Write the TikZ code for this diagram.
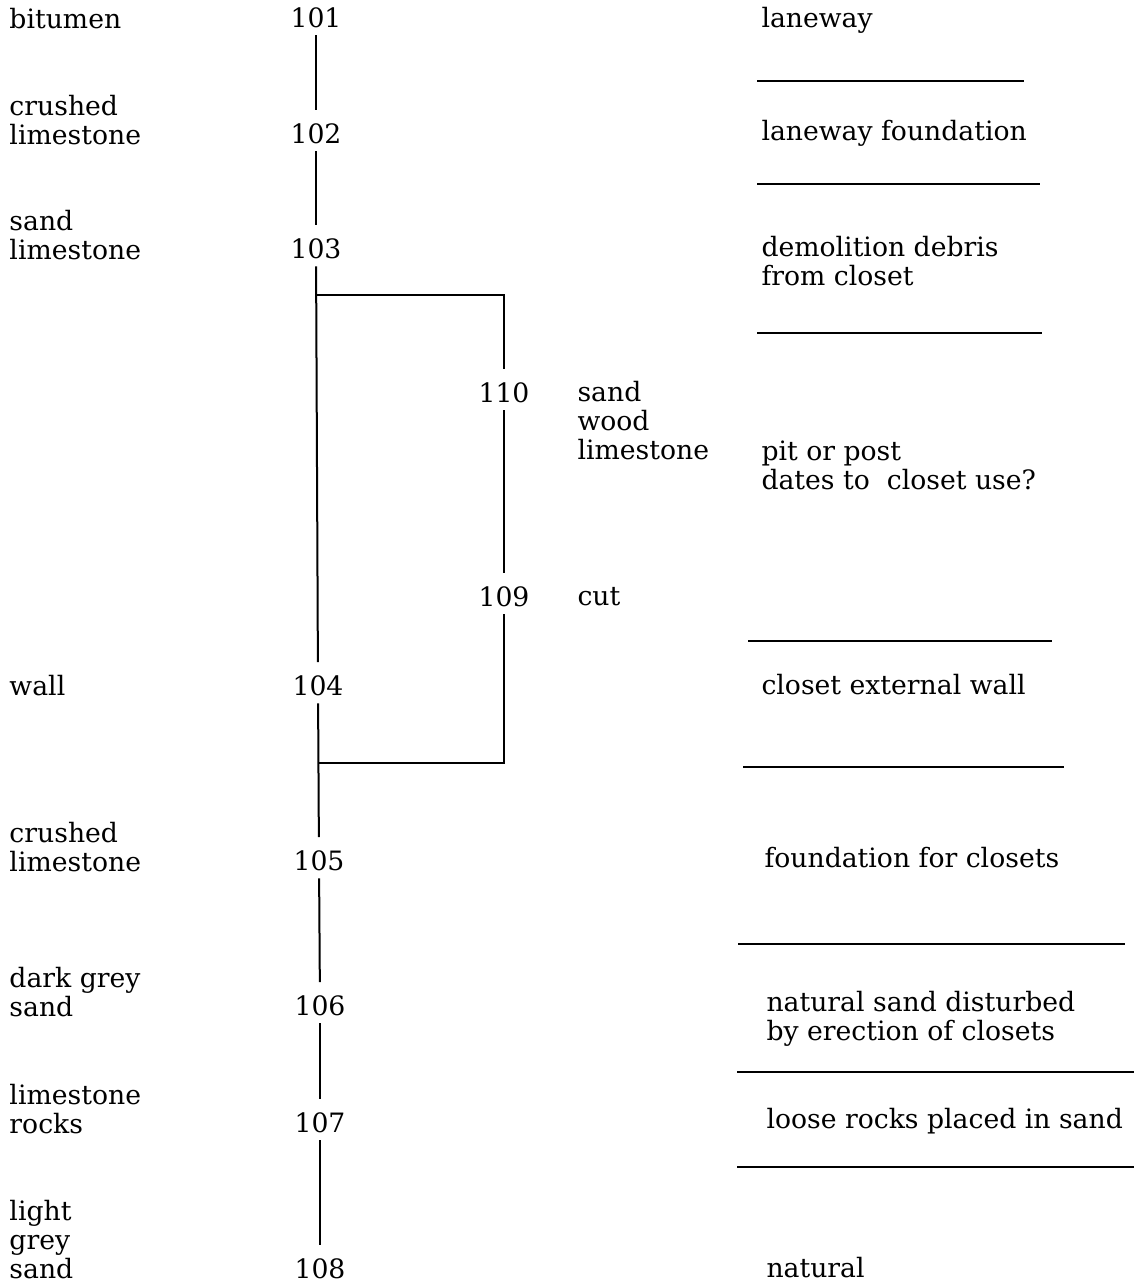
\documentclass[tikz,border=0pt]{standalone}
\usepackage{fontspec}
\setmainfont{DejaVu Serif}
\usepackage{amsmath, amssymb}
\tikzset{every picture/.style={line width=0.75pt}}
\tikzset{
  txt/.style={anchor=west, inner sep=0.75pt, align=left, font=\fontsize{20}{21.75}\selectfont},
  num/.style={inner xsep=2pt, inner ysep=5pt, font=\fontsize{20}{21.75}\selectfont},
  link/.style={line width=1.5pt, shorten >=5pt},
  rule/.style={line width=1.5pt}
}

\begin{document}
\begin{tikzpicture}[x=0.75pt,y=0.75pt,yscale=-1,xscale=1]
\useasboundingbox (0,0) rectangle (1134,1283);

% Number Nodes
\draw (316,18) node [num] (c101) {101};
\draw (316,134) node [num] (c102) {102};
\draw (316,249) node [num] (c103) {103};
\draw (318,686) node [num] (c104) {104};
\draw (319,861) node [num] (c105) {105};
\draw (320,1006) node [num] (c106) {106};
\draw (320,1123) node [num] (c107) {107};
\draw (320,1269) node [num] (c108) {108};
\draw (504,393) node [num] (c110) {110};
\draw (504,597) node [num] (c109) {109};
\coordinate (b1) at (316,295);
\coordinate (b2) at (318,763);

%Straight Lines
\draw [link] (c101) -- (c102);
\draw [link] (c102) -- (c103);
\draw [link] (c103) -- (c104);
\draw [link] (c104) -- (c105);
\draw [link] (c105) -- (c106);
\draw [link] (c106) -- (c107);
\draw [link] (c107) -- (c108);
\draw [link, line width=2pt] (b1) -| (c110);
\draw [link] (c110) -- (c109);
\draw [line width=2pt] (c109) |- (b2);

% Text Node (materials)
\draw (8,19) node [txt] (m101) {bitumen};
\draw (8,120) node [txt] (m102) {crushed\\limestone};
\draw (8,235) node [txt] (m103) {sand\\limestone};
\draw (8,686) node [txt] (m104) {wall};
\draw (8,847) node [txt] (m105) {crushed\\limestone};
\draw (8,992) node [txt] (m106) {dark grey\\sand};
\draw (8,1109) node [txt] (m107) {limestone\\rocks};
\draw (8,1240) node [txt] (m108) {light\\grey\\sand};
\draw (576,421) node [txt] (m110) {sand\\wood\\limestone};
\draw (576,597) node [txt] (m109) {cut};

% Text Node (interpretation)
\draw (760,20) node [txt] (d101) {laneway};
\draw (760,133) node [txt] (d102) {laneway foundation};
\draw (760,261) node [txt] (d103) {demolition debris\\from closet};
\draw (760,465) node [txt] (d110) {pit or post\\dates to \ closet use?};
\draw (760,685) node [txt] (d104) {closet external wall};
\draw (763,858) node [txt] (d105) {foundation for closets};
\draw (765,1019) node [txt] (d106) {natural sand disturbed\\by erection of closets};
\draw (765,1121) node [txt] (d107) {loose rocks placed in sand};
\draw (765,1268) node [txt] (d108) {natural};

%Straight Lines (phase rules)
\draw [rule] (757,81) -- (1024,81);
\draw [rule] (757,184) -- (1040,184);
\draw [rule] (757,333) -- (1042,333);
\draw [rule] (748,641) -- (1052,641);
\draw [rule] (743,767) -- (1064,767);
\draw [rule] (738,944) -- (1125,944);
\draw [rule] (737,1072) -- (1134,1072);
\draw [rule] (737,1167) -- (1134,1167);

\end{tikzpicture}
\end{document}
